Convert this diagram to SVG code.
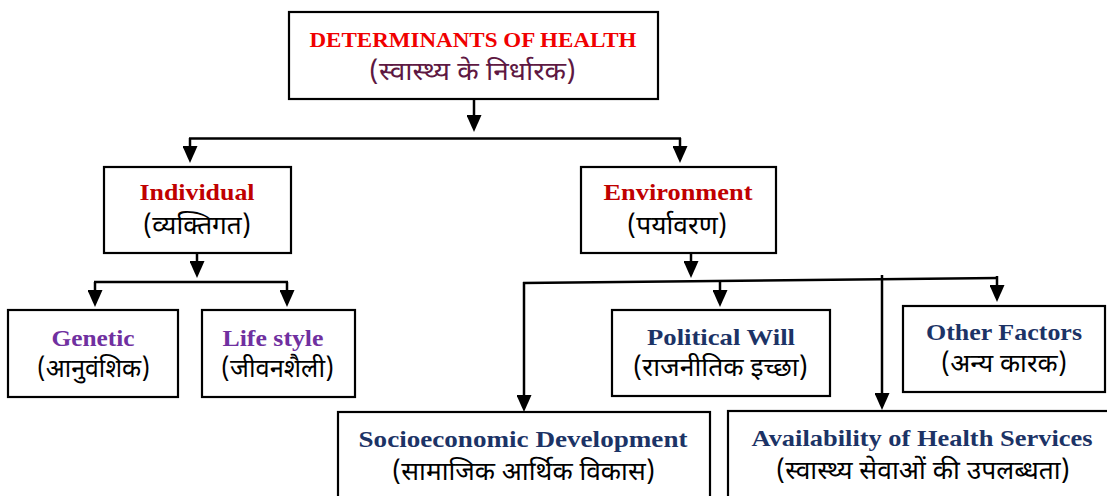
<svg xmlns="http://www.w3.org/2000/svg" width="1107" height="496" viewBox="0 0 1107 496">
<style>
.box{fill:#fff;stroke:#000;stroke-width:2.2}
.en{font-family:"Liberation Serif","Times New Roman",serif;font-weight:bold;text-anchor:middle}
.hi{font-family:"Noto Sans Devanagari","Noto Sans","Noto Sans CJK SC",sans-serif;text-anchor:middle;fill:#000;font-size:26px}
.red{fill:#c00000}
.pur{fill:#7030a0}
.blu{fill:#1c3366}
.con{fill:none;stroke:#000;stroke-width:2.5;marker-end:url(#ah)}
.ln{fill:none;stroke:#000;stroke-width:2.5}
</style>
<defs>
<marker id="ah" markerUnits="userSpaceOnUse" markerWidth="17" markerHeight="15" refX="13" refY="7.5" orient="auto">
<path d="M0,0 L17,7.5 L0,15 z" fill="#000"/>
</marker>
</defs>
<rect width="1107" height="496" fill="#fff"/>
<g id="connectors">
<path class="con" d="M474,99 V128"/>
<path class="ln" d="M189,138.5 H681"/>
<path class="con" d="M190,138 V159"/>
<path class="con" d="M680,138 V159"/>
<path class="con" d="M197,253 V274"/>
<path class="ln" d="M94,282 H288"/>
<path class="con" d="M95,282 V303"/>
<path class="con" d="M287,282 V303"/>
<path class="con" d="M691,253 V274"/>
<path class="ln" d="M523,283 L998,278"/>
<path class="con" d="M524,282 V408"/>
<path class="con" d="M720,281 V303"/>
<path class="con" d="M882,275 V406"/>
<path class="con" d="M997,276 V298"/>
</g>
<g id="root">
<rect class="box" x="289" y="12" width="369" height="87"/>
<text class="en" x="473" y="47" font-size="22" fill="#f00000" textLength="327" lengthAdjust="spacingAndGlyphs">DETERMINANTS OF HEALTH</text>
<text class="hi" x="472.5" y="80" style="fill:#5e1842" textLength="207" lengthAdjust="spacingAndGlyphs">(स्वास्थ्य के निर्धारक)</text>
</g>
<g id="individual">
<rect class="box" x="104" y="167" width="187" height="86"/>
<text class="en red" x="197" y="200" font-size="24" textLength="115" lengthAdjust="spacingAndGlyphs">Individual</text>
<text class="hi" x="197" y="234" textLength="108" lengthAdjust="spacingAndGlyphs">(व्यक्तिगत)</text>
</g>
<g id="environment">
<rect class="box" x="581" y="167" width="195" height="86"/>
<text class="en red" x="678" y="200" font-size="24" textLength="149" lengthAdjust="spacingAndGlyphs">Environment</text>
<text class="hi" x="677" y="234" textLength="100" lengthAdjust="spacingAndGlyphs">(पर्यावरण)</text>
</g>
<g id="genetic">
<rect class="box" x="8" y="310" width="170" height="87"/>
<text class="en pur" x="93" y="346" font-size="24" textLength="83" lengthAdjust="spacingAndGlyphs">Genetic</text>
<text class="hi" x="93.5" y="377" textLength="113" lengthAdjust="spacingAndGlyphs">(आनुवंशिक)</text>
</g>
<g id="lifestyle">
<rect class="box" x="202" y="310" width="153" height="87"/>
<text class="en pur" x="273" y="346" font-size="24" textLength="101" lengthAdjust="spacingAndGlyphs">Life style</text>
<text class="hi" x="277.5" y="377" textLength="113" lengthAdjust="spacingAndGlyphs">(जीवनशैली)</text>
</g>
<g id="political">
<rect class="box" x="612" y="310" width="218" height="86"/>
<text class="en blu" x="721" y="345" font-size="23" textLength="148" lengthAdjust="spacingAndGlyphs">Political Will</text>
<text class="hi" x="720.5" y="376" textLength="175" lengthAdjust="spacingAndGlyphs">(राजनीतिक इच्छा)</text>
</g>
<g id="other">
<rect class="box" x="903" y="306" width="202" height="86"/>
<text class="en blu" x="1004" y="340" font-size="23" textLength="156" lengthAdjust="spacingAndGlyphs">Other Factors</text>
<text class="hi" x="1004" y="372" textLength="126" lengthAdjust="spacingAndGlyphs">(अन्य कारक)</text>
</g>
<g id="socioeconomic">
<rect class="box" x="338" y="412" width="372" height="90"/>
<text class="en blu" x="523" y="447" font-size="23" textLength="329" lengthAdjust="spacingAndGlyphs">Socioeconomic Development</text>
<text class="hi" x="523.5" y="480" textLength="263" lengthAdjust="spacingAndGlyphs">(सामाजिक आर्थिक विकास)</text>
</g>
<g id="availability">
<rect class="box" x="728" y="411" width="390" height="90"/>
<text class="en blu" x="922" y="446" font-size="23" textLength="341" lengthAdjust="spacingAndGlyphs">Availability of Health Services</text>
<text class="hi" x="923" y="479" textLength="294" lengthAdjust="spacingAndGlyphs">(स्वास्थ्य सेवाओं की उपलब्धता)</text>
</g>
</svg>
